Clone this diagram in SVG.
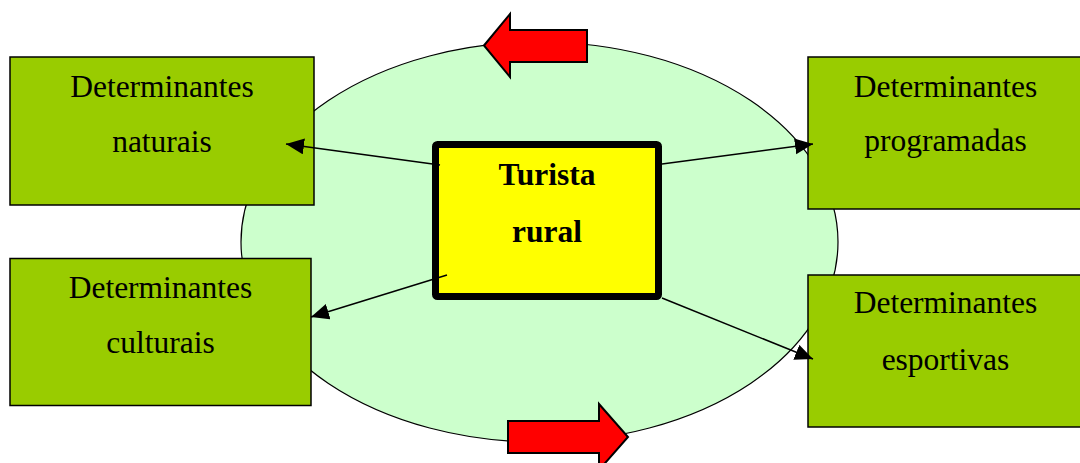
<svg xmlns="http://www.w3.org/2000/svg" width="1080" height="463" viewBox="0 0 1080 463">
  <style>
    .det { fill: #99CC00; stroke: #000; stroke-width: 1.5; }
    .lbl { font-family: "Liberation Serif", "Times New Roman", serif; font-size: 31.5px; fill: #000; text-anchor: middle; }
    .bold { font-weight: bold; }
    .conn { stroke: #000; stroke-width: 1.5; fill: none; marker-end: url(#head); }
    .turn { fill: #FF0000; stroke: #000; stroke-width: 2; stroke-linejoin: miter; }
  </style>
  <defs>
    <marker id="head" markerUnits="userSpaceOnUse" markerWidth="20" markerHeight="18" refX="18" refY="8" orient="auto">
      <path d="M0,0 L18,8 L0,16 z" fill="#000"/>
    </marker>
  </defs>

  <rect width="1080" height="463" fill="#fff"/>

  <!-- cycle backdrop -->
  <ellipse id="cycle" cx="539.5" cy="242" rx="298.5" ry="200" fill="#CCFFCC" stroke="#000" stroke-width="1.2"/>

  <!-- rotation arrows -->
  <polygon id="turn-top" class="turn" points="484,45.5 510,14 510,30 587,30 587,62 510,62 510,77"/>
  <polygon id="turn-bottom" class="turn" points="508,421 599,421 599,404 628,437 599,470 599,453 508,453"/>

  <g id="det-naturais">
    <rect class="det" x="10" y="57" width="304" height="148"/>
    <text class="lbl" x="162" y="97">Determinantes</text>
    <text class="lbl" x="162" y="152">naturais</text>
  </g>

  <g id="det-culturais">
    <rect class="det" x="10" y="258.5" width="301" height="147"/>
    <text class="lbl" x="160.5" y="298">Determinantes</text>
    <text class="lbl" x="160.5" y="353">culturais</text>
  </g>

  <g id="det-programadas">
    <rect class="det" x="808" y="57" width="276" height="152"/>
    <text class="lbl" x="945.5" y="97">Determinantes</text>
    <text class="lbl" x="945.5" y="151">programadas</text>
  </g>

  <g id="det-esportivas">
    <rect class="det" x="808" y="275" width="276" height="152"/>
    <text class="lbl" x="945.5" y="313">Determinantes</text>
    <text class="lbl" x="945.5" y="370">esportivas</text>
  </g>

  <g id="turista">
    <rect x="435.5" y="144.5" width="223" height="152" rx="2" fill="#FFFF00" stroke="#000" stroke-width="7"/>
    <text class="lbl bold" x="547" y="185">Turista</text>
    <text class="lbl bold" x="547" y="242">rural</text>
  </g>

  <g id="connectors">
    <line class="conn" x1="440" y1="165" x2="286" y2="144"/>
    <line class="conn" x1="447" y1="275" x2="311" y2="317"/>
    <line class="conn" x1="662" y1="164" x2="813" y2="144"/>
    <line class="conn" x1="662" y1="298" x2="813" y2="359"/>
  </g>
</svg>
